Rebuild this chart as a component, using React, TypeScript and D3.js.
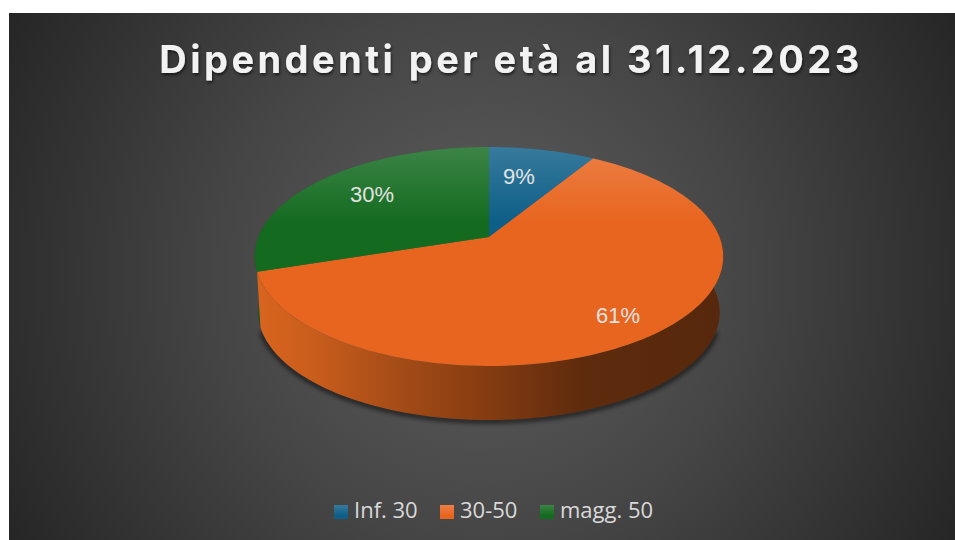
import React from "react";
import * as d3 from "d3";

const categories = ["Inf. 30", "30-50", "magg. 50"];
const values = [8.7, 61.3, 30];
const labels = ["9%", "61%", "30%"];
const topColors = ["#0e5f88", "#e8651f", "#146b20"];
const titleText = "Dipendenti per età al 31.12.2023";

const W = 955;
const H = 540;

// pie seen in perspective: apex is not the middle of the ellipse
const apex = { x: 489, y: 237 };
const persp = 0.178;
const radiusX = 230.5;
const radiusY = 106;
const thickness = 56;
const bottomScale = 0.985;

const project = (a: number, scale = 1, dy = 0): [number, number] => {
  const u = Math.sin(a);
  const v = -Math.cos(a);
  const d = 1 - persp * v;
  return [apex.x + (scale * radiusX * u) / d, apex.y + dy + (scale * radiusY * v) / d];
};

const rim = (a0: number, a1: number, scale = 1, dy = 0): [number, number][] =>
  d3.range(0, 121).map((i) => project(a0 + ((a1 - a0) * i) / 120, scale, dy));

const line = d3.line();

const pie = d3.pie<number>().sort(null);
const slices = pie(values);

const rad = (deg: number) => (deg * Math.PI) / 180;

// silhouette of the thick edge on the right and left
const sideStart = rad(82);
const sideEnd = rad(278);

const sidePath = (a0: number, a1: number) =>
  line([...rim(a0, a1), ...rim(a0, a1, bottomScale, thickness).reverse()]) + "Z";

const labelPos: [number, number][] = [
  [519, 184],
  [618, 323],
  [372, 202],
];
const legendX = [334, 440, 540];

export default function App() {
  const orange = slices[1];
  const outline = line(rim(rad(110), rad(250), bottomScale, thickness));

  return (
    <svg width={W} height={H} style={{ position: "fixed", left: 0, top: 0, background: "#fff" }}>
      <defs>
        <radialGradient id="bg" gradientUnits="userSpaceOnUse" cx={482} cy={276} r={540}>
          <stop offset="0" stopColor="#5e5e5e" />
          <stop offset="0.5" stopColor="#454545" />
          <stop offset="1" stopColor="#262626" />
        </radialGradient>
        <linearGradient id="sheen" gradientUnits="userSpaceOnUse" x1={0} x2={0} y1={147} y2={222}>
          <stop offset="0" stopColor="#fff" stopOpacity={0.17} />
          <stop offset="1" stopColor="#fff" stopOpacity={0} />
        </linearGradient>
        <linearGradient id="legendSheen" x1={0} x2={0} y1={0} y2={1}>
          <stop offset="0" stopColor="#fff" stopOpacity={0.17} />
          <stop offset="0.75" stopColor="#fff" stopOpacity={0} />
        </linearGradient>
        <linearGradient id="sideOrange" gradientUnits="userSpaceOnUse" x1={258} x2={722} y1={0} y2={0}>
          <stop offset="0" stopColor="#d8651f" />
          <stop offset="0.12" stopColor="#c95d1c" />
          <stop offset="0.3" stopColor="#a54c17" />
          <stop offset="0.5" stopColor="#843b11" />
          <stop offset="0.7" stopColor="#5e2b0d" />
          <stop offset="1" stopColor="#57280c" />
        </linearGradient>
        <filter id="blur" x="-10%" y="-20%" width="120%" height="140%">
          <feGaussianBlur stdDeviation="2.5" />
        </filter>
        <filter id="titleShadow" x="-5%" y="-30%" width="110%" height="170%">
          <feDropShadow dx="1" dy="2" stdDeviation="1.5" floodColor="#000" floodOpacity={0.6} />
        </filter>
      </defs>

      <rect x={9} y={13} width={W - 9} height={H - 13} fill="url(#bg)" />

      <text
        x={511}
        y={73}
        textAnchor="middle"
        fontFamily="Inter, sans-serif"
        fontWeight={700}
        fontSize={38}
        letterSpacing={3.45}
        fill="#f2f2f2"
        filter="url(#titleShadow)"
      >
        {titleText}
      </text>

      <path d={outline ?? ""} fill="none" stroke="#000" strokeOpacity={0.75} strokeWidth={4} filter="url(#blur)" transform="translate(0,1)" />

      <path d={sidePath(rad(252), sideEnd)} fill="#0f5a1a" />
      <path d={sidePath(sideStart, orange.endAngle)} fill="url(#sideOrange)" />

      {slices.map((s, i) => {
        const d = line([[apex.x, apex.y], ...rim(s.startAngle, s.endAngle)]) + "Z";
        return (
          <g key={categories[i]}>
            <path d={d} fill={topColors[i]} />
            <path d={d} fill="url(#sheen)" />
          </g>
        );
      })}

      {slices.map((s, i) => (
        <text
          key={i}
          x={labelPos[i][0]}
          y={labelPos[i][1]}
          textAnchor="middle"
          fontFamily="'Liberation Sans', Arial, sans-serif"
          fontSize={22}
          fill="#e3e3e3"
        >
          {labels[i]}
        </text>
      ))}

      <g fontFamily="'Open Sans', sans-serif" fontSize={22} fill="#d9d9d9">
        {categories.map((c, i) => (
          <g key={c} transform={`translate(${legendX[i]},505)`}>
            <rect width={14} height={14} fill={topColors[i]} />
            <rect width={14} height={14} fill="url(#legendSheen)" />
            <text x={20} y={13}>{c}</text>
          </g>
        ))}
      </g>
    </svg>
  );
}
